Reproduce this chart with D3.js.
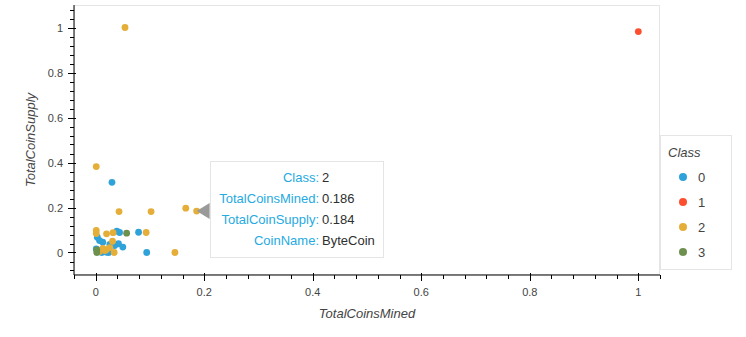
<!DOCTYPE html>
<html>
<head>
<meta charset="utf-8">
<script src="https://cdn.jsdelivr.net/npm/d3@7"></script>
<style>
  body { margin: 0; background: #fff; }
  text { font-family: "Liberation Sans", Arial, Helvetica, sans-serif; }
</style>
</head>
<body>
<div id="chart"></div>
<script>
// data (scaled values)
var classes = ["0", "1", "2", "3"];
var classColors = ["#30a2da", "#fc4f30", "#e5ae38", "#6d904f"];

var class0Mined  = [0.030, 0.039, 0.079, 0.003, 0.007, 0.013, 0.042, 0.050, 0.001, 0.020, 0.094, 0.006, 0.024, 0.011, 0.035, 0.026, 0.044];
var class0Supply = [0.312, 0.095, 0.090, 0.068, 0.053, 0.046, 0.039, 0.024, 0.016, 0.001, 0.000, 0.009, 0.000, 0.000, 0.031, 0.036, 0.089];

var class1Mined  = [1.000];
var class1Supply = [0.982];

var class2Mined  = [0.054, 0.001, 0.043, 0.102, 0.166, 0.186, 0.001, 0.001, 0.020, 0.032, 0.093, 0.031, 0.013, 0.020, 0.026, 0.034, 0.146, 0.007, 0.017];
var class2Supply = [1.000, 0.382, 0.182, 0.182, 0.197, 0.184, 0.098, 0.084, 0.083, 0.088, 0.089, 0.050, 0.018, 0.013, 0.022, 0.000, 0.000, 0.004, 0.009];

var class3Mined  = [0.057, 0.002, 0.002];
var class3Supply = [0.086, 0.000, 0.012];

var xTicks = [0, 0.2, 0.4, 0.6, 0.8, 1];
var yTicks = [0, 0.2, 0.4, 0.6, 0.8, 1];

// hovered point shown in the tooltip
var tipLabels = ["Class", "TotalCoinsMined", "TotalCoinSupply", "CoinName"];
var tipValues = ["2", "0.186", "0.184", "ByteCoin"];

var series = [
    {mined: class0Mined, supply: class0Supply},
    {mined: class1Mined, supply: class1Supply},
    {mined: class2Mined, supply: class2Supply},
    {mined: class3Mined, supply: class3Supply}
];

var W = 746, H = 337;
var frame = {left: 74, top: 5, right: 660, bottom: 275};
var textColor = "#444444";

var svg = d3.select("#chart").append("svg")
    .attr("width", W)
    .attr("height", H);

var x = d3.scaleLinear().domain([-0.04, 1.04]).range([frame.left, frame.right]);
var y = d3.scaleLinear().domain([-0.1, 1.1]).range([frame.bottom, frame.top]);

// frame outline
svg.append("rect")
    .attr("x", frame.left + 0.5)
    .attr("y", frame.top + 0.5)
    .attr("width", frame.right - frame.left - 1)
    .attr("height", frame.bottom - frame.top - 1)
    .attr("fill", "none")
    .attr("stroke", "#e5e5e5");

// minor ticks every 0.04
var xMinor = d3.range(-0.04, 1.0401, 0.04).filter(function(v) { return v >= -0.0401 && v <= 1.0401; });
var yMinor = d3.range(-0.08, 1.0801, 0.04);

var xAxisG = svg.append("g").attr("transform", "translate(0," + frame.bottom + ")");
xAxisG.append("line").attr("x1", frame.left).attr("x2", frame.right).attr("stroke", "#000");
xAxisG.selectAll(".minor").data(xMinor).enter().append("line")
    .attr("x1", function(d) { return Math.round(x(d)) + 0.5; })
    .attr("x2", function(d) { return Math.round(x(d)) + 0.5; })
    .attr("y1", 0).attr("y2", 4).attr("stroke", "#000");
xAxisG.selectAll(".major").data(xTicks).enter().append("line")
    .attr("x1", function(d) { return Math.round(x(d)) + 0.5; })
    .attr("x2", function(d) { return Math.round(x(d)) + 0.5; })
    .attr("y1", -2).attr("y2", 6).attr("stroke", "#000");
xAxisG.selectAll(".lbl").data(xTicks).enter().append("text")
    .attr("x", function(d) { return x(d); })
    .attr("y", 21)
    .attr("text-anchor", "middle")
    .style("font-size", "11px")
    .attr("fill", textColor)
    .text(function(d) { return d3.format("~g")(d); });

var yAxisG = svg.append("g").attr("transform", "translate(" + frame.left + ",0)");
yAxisG.append("line").attr("y1", frame.top).attr("y2", frame.bottom).attr("stroke", "#000");
yAxisG.selectAll(".minor").data(yMinor).enter().append("line")
    .attr("y1", function(d) { return Math.round(y(d)) + 0.5; })
    .attr("y2", function(d) { return Math.round(y(d)) + 0.5; })
    .attr("x1", 0).attr("x2", -4).attr("stroke", "#000");
yAxisG.selectAll(".major").data(yTicks).enter().append("line")
    .attr("y1", function(d) { return Math.round(y(d)) + 0.5; })
    .attr("y2", function(d) { return Math.round(y(d)) + 0.5; })
    .attr("x1", 2).attr("x2", -6).attr("stroke", "#000");
yAxisG.selectAll(".lbl").data(yTicks).enter().append("text")
    .attr("x", -11)
    .attr("y", function(d) { return y(d) + 4; })
    .attr("text-anchor", "end")
    .style("font-size", "11px")
    .attr("fill", textColor)
    .text(function(d) { return d3.format("~g")(d); });

// axis labels
svg.append("text")
    .attr("x", (frame.left + frame.right) / 2)
    .attr("y", 318)
    .attr("text-anchor", "middle")
    .style("font-size", "13px")
    .style("font-style", "italic")
    .attr("fill", textColor)
    .text("TotalCoinsMined");

svg.append("text")
    .attr("transform", "translate(35," + ((frame.top + frame.bottom) / 2) + ") rotate(-90)")
    .attr("text-anchor", "middle")
    .style("font-size", "13px")
    .style("font-style", "italic")
    .attr("fill", textColor)
    .text("TotalCoinSupply");

// points
series.forEach(function(s, i) {
    var pts = s.mined.map(function(m, j) { return [m, s.supply[j]]; });
    svg.append("g").selectAll("circle")
        .data(pts)
        .enter().append("circle")
        .attr("cx", function(d) { return x(d[0]); })
        .attr("cy", function(d) { return y(d[1]); })
        .attr("r", 3.4)
        .attr("fill", classColors[i]);
});

// legend
var leg = svg.append("g");
leg.append("rect")
    .attr("x", 660.5).attr("y", 135.5)
    .attr("width", 71).attr("height", 134)
    .attr("fill", "#fff")
    .attr("stroke", "#e5e5e5");
leg.append("text")
    .attr("x", 668).attr("y", 157)
    .style("font-size", "13px")
    .style("font-style", "italic")
    .attr("fill", textColor)
    .text("Class");
classes.forEach(function(c, i) {
    var cy = 177 + i * 25;
    leg.append("circle").attr("cx", 683).attr("cy", cy).attr("r", 4).attr("fill", classColors[i]);
    leg.append("text")
        .attr("x", 698).attr("y", cy + 5)
        .style("font-size", "13px")
        .attr("fill", textColor)
        .text(c);
});

// tooltip for ByteCoin
var px = x(+tipValues[1]), py = y(+tipValues[2]);
var tip = svg.append("g");
tip.append("path")
    .attr("d", "M" + px + "," + py + "L" + (px + 13) + "," + (py - 8) + "L" + (px + 13) + "," + (py + 8) + "Z")
    .attr("fill", "#9a9a9a");
tip.append("rect")
    .attr("x", 210.5).attr("y", 161.5)
    .attr("width", 173).attr("height", 96)
    .attr("fill", "#fff")
    .attr("stroke", "#e5e5e5");
tipLabels.forEach(function(l, i) {
    var ty = 182 + i * 21;
    tip.append("text")
        .attr("x", 319).attr("y", ty)
        .attr("text-anchor", "end")
        .style("font-size", "13px")
        .attr("fill", "#26aae1")
        .text(l + ":");
    tip.append("text")
        .attr("x", 322).attr("y", ty)
        .style("font-size", "13px")
        .attr("fill", "#2f2f2f")
        .text(tipValues[i]);
});
</script>
</body>
</html>
